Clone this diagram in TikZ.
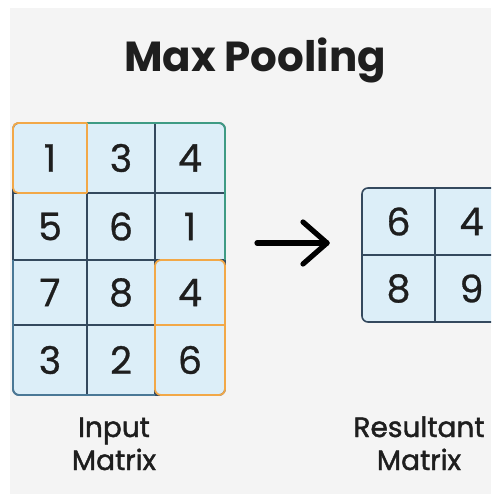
\documentclass[tikz,border=0pt]{standalone}
\usepackage{fontspec}
\setmainfont{Poppins}
\newfontfamily\labfont[FakeBold=1.6]{Poppins}
\newfontfamily\numfont[FakeBold=0.8]{Poppins}
\usetikzlibrary{calc}
\definecolor{bgc}{HTML}{F4F4F4}
\definecolor{cellc}{HTML}{DCEEF8}
\definecolor{gridc}{HTML}{34495E}
\definecolor{orangec}{HTML}{F2A848}
\definecolor{tealc}{HTML}{3E9B84}
\definecolor{bluec}{HTML}{4A7896}
\definecolor{textc}{HTML}{1E1E1E}
\begin{document}
\begin{tikzpicture}[x=1pt,y=-1pt,
  gridline/.style={draw=gridc, line width=1.6pt},
  hilite/.style={draw=orangec, line width=1.8pt},
  num/.style={inner sep=0pt, font=\numfont\fontsize{38}{40}\selectfont, text=textc},
  lab/.style={inner sep=0pt, anchor=base, font=\labfont\fontsize{28}{30}\selectfont, text=textc},
  titlestyle/.style={inner sep=0pt, anchor=base, font=\fontsize{42}{44}\selectfont\bfseries, text=textc},
  arrowline/.style={draw=black, line width=5.2pt, line cap=round, line join=round}]
\useasboundingbox (0,0) rectangle (491,494);
\clip (0,0) rectangle (491,494);
\fill[white] (0,0) rectangle (491,494);
\fill[bgc] (10,8) rectangle (491,494);

\node[titlestyle] (title) at (255,72) {Max Pooling};

% input matrix
\fill[cellc, rounded corners=6pt] (13,123) rectangle (225,395);
\draw[gridline] (87,123) -- (87,395) (155,123) -- (155,395)
  (13,193) -- (225,193) (13,260) -- (225,260) (13,325) -- (225,325);
\draw[gridline, rounded corners=6pt] (13,123) rectangle (225,395);
\draw[draw=tealc, line width=1.8pt, rounded corners=6pt] (87,123) -- (225,123) -- (225,260);
\draw[draw=bluec, line width=1.8pt, rounded corners=6pt] (13,260) -- (13,395) -- (155,395);
\draw[hilite, rounded corners=5pt] (87,193) -- (13,193) -- (13,123) -- (87,123);
\draw[hilite] (87,123) -- (87,193);
\draw[hilite, rounded corners=6pt] (155,260) -- (225,260) -- (225,395) -- (155,395) -- cycle;
\draw[hilite] (155,325) -- (225,325);

\foreach \r/\y in {1/158,2/226.5,3/292.5,4/360}{
  \foreach \c/\x in {1/50,2/121,3/190}{
    \coordinate (p\r\c) at (\x,\y);
  }
}
\node[num] (i11) at (p11) {1};
\node[num] (i12) at (p12) {3};
\node[num] (i13) at (p13) {4};
\node[num] (i21) at (p21) {5};
\node[num] (i22) at (p22) {6};
\node[num] (i23) at (p23) {1};
\node[num] (i31) at (p31) {7};
\node[num] (i32) at (p32) {8};
\node[num] (i33) at (p33) {4};
\node[num] (i41) at (p41) {3};
\node[num] (i42) at (p42) {2};
\node[num] (i43) at (p43) {6};

\node[lab] (in1) at (114,437) {Input};
\node[lab] (in2) at (114,470) {Matrix};

% result matrix
\fill[cellc, rounded corners=6pt] (362,188) rectangle (508,322);
\draw[gridline] (435,188) -- (435,322) (362,255) -- (508,255);
\draw[gridline, rounded corners=6pt] (362,188) rectangle (508,322);
\node[num] (o11) at (398.5,221.5) {6};
\node[num] (o12) at (471.5,221.5) {4};
\node[num] (o21) at (398.5,288.5) {8};
\node[num] (o22) at (471.5,288.5) {9};

\node[lab] (out1) at (419,437) {Resultant};
\node[lab] (out2) at (419,470) {Matrix};

% arrow
\coordinate (aS) at (257,243);
\coordinate (aE) at (327,243);
\draw[arrowline] (aS) -- (aE);
\draw[arrowline] ($(aE)+(-24,-21)$) -- (aE) -- ($(aE)+(-24,21)$);
\end{tikzpicture}
\end{document}
